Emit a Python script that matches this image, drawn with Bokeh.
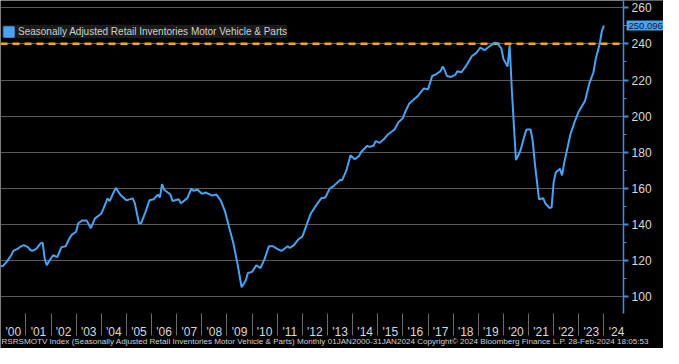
import math
from bokeh.plotting import figure
from bokeh.models import (ColumnDataSource, FixedTicker, Span, Legend, LegendItem,
                          Label, BoxAnnotation)
from bokeh.embed import file_html
from bokeh.resources import INLINE

# ---- data ----
dates = ["2000-01","2000-02","2000-04","2000-06","2000-07","2000-09","2000-10","2000-12",
         "2001-02","2001-03","2001-04","2001-06","2001-08","2001-09","2001-10","2001-11","2001-12",
         "2002-02","2002-04","2002-05","2002-06","2002-08","2002-10","2002-11",
         "2003-01","2003-02","2003-04","2003-06","2003-08","2003-10",
         "2004-01","2004-02","2004-04","2004-05","2004-07","2004-08","2004-10","2004-11",
         "2005-01","2005-04","2005-05","2005-07","2005-08","2005-10","2005-12",
         "2006-02","2006-04","2006-05","2006-06","2006-07","2006-10","2006-11",
         "2007-02","2007-03","2007-06","2007-08","2007-09","2007-11",
         "2008-01","2008-03","2008-06","2008-08","2008-10","2008-12",
         "2009-02","2009-04","2009-06","2009-08","2009-10","2009-11",
         "2010-01","2010-03","2010-05","2010-07","2010-09","2010-11",
         "2011-01","2011-03","2011-06","2011-07","2011-09","2011-11",
         "2012-01","2012-03","2012-05","2012-08","2012-10","2012-12",
         "2013-02","2013-04","2013-07","2013-08","2013-10","2013-12",
         "2014-02","2014-04","2014-05","2014-08","2014-09","2014-11","2014-12",
         "2015-02","2015-04","2015-06","2015-09","2015-11",
         "2016-01","2016-02","2016-04","2016-06","2016-08","2016-11",
         "2017-01","2017-03","2017-05","2017-07","2017-08","2017-09","2017-10","2017-12",
         "2018-02","2018-03","2018-05","2018-07","2018-10","2018-12",
         "2019-02","2019-04","2019-07","2019-09","2019-10","2019-12",
         "2020-01","2020-03","2020-04","2020-05","2020-06","2020-07","2020-09","2020-11","2020-12",
         "2021-02","2021-03","2021-04","2021-06","2021-08","2021-09","2021-11","2021-12",
         "2022-01","2022-02","2022-04","2022-05","2022-06","2022-09","2022-11",
         "2023-01","2023-04","2023-06","2023-08","2023-09","2023-11","2023-12",
         "2024-01"]
values = [116.9,117.0,119.6,123.0,125.4,126.5,127.5,128.6,
          127.5,126.0,125.4,126.5,129.6,130.0,121.0,117.5,119.6,
          123.0,122.0,124.8,127.5,128.0,132.8,134.4,
          136.0,140.7,142.3,142.3,138.0,143.4,
          146.0,148.7,154.5,153.0,158.0,160.3,156.6,155.5,
          153.4,154.5,151.8,140.7,140.7,146.6,153.4,
          154.0,156.6,155.0,162.4,159.3,156.6,153.0,
          154.0,151.8,154.5,159.8,158.7,159.3,
          157.0,157.7,156.0,156.6,153.4,147.6,
          138.6,130.0,118.5,105.3,109.0,113.2,
          113.8,117.5,115.9,121.0,128.0,128.0,
          126.5,125.4,128.0,127.0,128.6,131.7,
          133.3,139.7,146.0,151.3,154.5,155.0,
          159.8,161.4,164.6,164.6,169.8,178.3,
          176.2,177.8,180.0,183.6,183.0,183.6,186.2,
          185.2,187.3,190.0,192.6,196.8,
          198.9,202.0,206.9,209.0,211.0,215.3,
          214.8,222.2,223.3,224.9,227.5,225.4,222.2,221.7,
          222.8,224.9,224.3,227.5,233.3,234.9,
          238.0,236.5,239.2,240.7,240.2,237.6,
          231.7,227.5,239.2,215.0,195.0,175.7,180.4,188.9,192.6,
          192.6,186.2,174.0,154.0,154.5,151.8,149.2,149.5,
          163.5,168.8,170.9,167.2,174.0,190.0,196.8,
          202.6,208.5,218.0,224.3,231.2,240.2,247.0,
          250.096]
series_name = "Seasonally Adjusted Retail Inventories Motor Vehicle & Parts"
last_value = 250.096
high_level = 240.0
year_labels = ["'00","'01","'02","'03","'04","'05","'06","'07","'08","'09","'10","'11",
               "'12","'13","'14","'15","'16","'17","'18","'19","'20","'21","'22","'23","'24"]
y_ticks = [100, 120, 140, 160, 180, 200, 220, 240, 260]
footer = ("RSRSMOTV Index (Seasonally Adjusted Retail Inventories Motor Vehicle & Parts)  "
          "Monthly 01JAN2000-31JAN2024   Copyright\u00a9 2024 Bloomberg Finance L.P.   "
          "28-Feb-2024 18:05:53")

# ---- derived ----
xs = [int(d[:4]) + (int(d[5:7]) - 1) / 12.0 for d in dates]
src = ColumnDataSource(dict(x=xs, y=values))

FONT = "Liberation Sans"
BLUE = "#4aa2f2"
AXBLUE = "#3d8fe0"
W, H = 663, 348
# plotting area in data units; the visible canvas extends past it on the right/bottom
X0, X1 = 1999.99, 2024.78
Y0, Y1 = 91.0, 264.0
XR = (X0, 2026.37)
YR = (71.4, Y1)

p = figure(width=W, height=H, output_backend="svg", toolbar_location=None,
           x_range=XR, y_range=YR, y_axis_location="right",
           min_border_left=0, min_border_top=0, min_border_right=0, min_border_bottom=0,
           background_fill_color="black", border_fill_color="black",
           outline_line_color=None)

p.xgrid.grid_line_color = None
p.ygrid.grid_line_color = "#5a5a5a"
p.ygrid.grid_line_width = 1

# previous high, dashed (underlay so the mask below trims it at the axis)
p.add_layout(Span(location=high_level, dimension="width", line_color="#f5a524",
                  line_width=2.5, line_dash="7 5", level="underlay"))
# mask right of the value axis
p.add_layout(BoxAnnotation(left=X1, fill_color="black", fill_alpha=1,
                           line_color=None, level="underlay"))

# y axis pinned at the right edge of the plotting area
ya = p.yaxis[0]
ya.fixed_location = X1
ya.bounds = (Y0, Y1)
ya.ticker = FixedTicker(ticks=y_ticks, minor_ticks=list(range(100, 265, 10)))
ya.axis_line_color = AXBLUE
ya.axis_line_width = 1.5
ya.major_tick_line_color = AXBLUE
ya.major_tick_line_width = 2
ya.major_tick_out = 5
ya.major_tick_in = 0
ya.minor_tick_line_color = AXBLUE
ya.minor_tick_out = 3
ya.minor_tick_in = 0
ya.major_label_text_color = "#d9d9d9"
ya.major_label_text_font = FONT
ya.major_label_text_font_size = "12px"
ya.major_label_standoff = 3

# x axis pinned at the bottom of the plotting area: labels mid-year, separators at year starts
xa = p.xaxis[0]
xa.fixed_location = Y0
mid_ticks = [2000 + i + 0.5 for i in range(len(year_labels))]
xa.ticker = FixedTicker(ticks=mid_ticks, minor_ticks=[2001 + i for i in range(24)])
xa.major_label_overrides = {t: lab for t, lab in zip(mid_ticks, year_labels)}
xa.axis_line_color = None
xa.major_tick_line_color = None
xa.major_tick_out = 0
xa.major_tick_in = 0
xa.minor_tick_line_color = "#6a6a6a"
xa.minor_tick_out = 22
xa.minor_tick_in = 0
xa.major_label_text_color = "#d9d9d9"
xa.major_label_text_font = FONT
xa.major_label_text_font_size = "12px"
xa.major_label_standoff = -10

# data line
line = p.line("x", "y", source=src, line_color=BLUE, line_width=2)

# last value tag
p.add_layout(Label(x=X1, y=last_value, x_offset=3, text=f"{last_value:.3f}",
                   text_font=FONT, text_font_size="9.5px", text_color="#0c1a2c",
                   text_baseline="middle", text_align="left",
                   background_fill_color=BLUE, background_fill_alpha=1, padding=2))

# legend with square swatch (swatch renderer holds no visible point)
sw = p.quad(left=[math.nan], right=[math.nan], bottom=[math.nan], top=[math.nan],
            fill_color=BLUE, line_color=BLUE)
leg = Legend(items=[LegendItem(label=series_name, renderers=[sw])],
             location=(2, H - 38),
             background_fill_color="#1b1b1b", background_fill_alpha=1,
             border_line_color=None, label_text_color="#d0d0d0",
             label_text_font=FONT, label_text_font_size="10px",
             glyph_width=13, glyph_height=13, padding=5, margin=0,
             label_standoff=3, spacing=0, label_height=13)
p.add_layout(leg, "center")

# footer line
p.add_layout(Label(x=1, y=3, x_units="screen", y_units="screen", text=footer,
                   text_font=FONT, text_font_size="8.1px", text_color="#d0d0d0",
                   text_baseline="bottom", text_align="left"))

open("out.html", "w").write(file_html(p, INLINE))
